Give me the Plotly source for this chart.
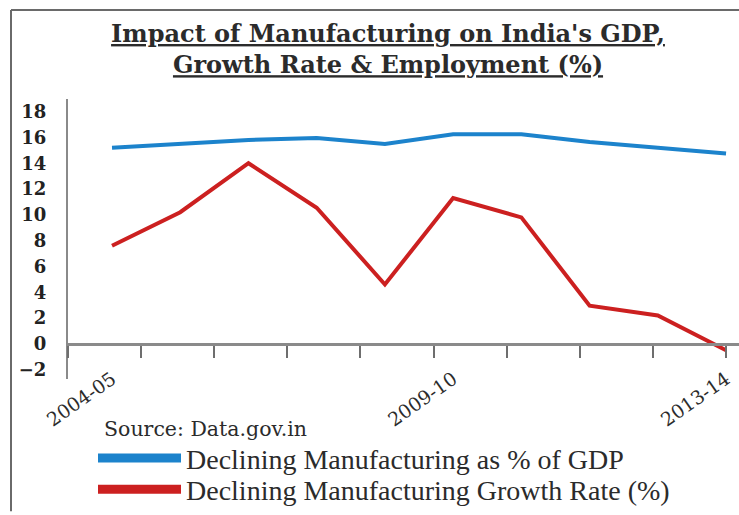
import plotly.graph_objects as go

# ---- data ----
years = ["2004-05", "2005-06", "2006-07", "2007-08", "2008-09",
         "2009-10", "2010-11", "2011-12", "2012-13", "2013-14"]
gdp_share = [15.2, 15.5, 15.8, 15.95, 15.5, 16.25, 16.25, 15.65, 15.2, 14.75]
growth_rate = [7.6, 10.2, 14.0, 10.55, 4.6, 11.3, 9.8, 2.95, 2.2, -0.5]
label_years = ["2004-05", "2009-10", "2013-14"]
y_ticks = list(range(-2, 19, 2))

series_names = ["Declining Manufacturing as % of GDP",
                "Declining Manufacturing Growth Rate (%)"]
title_lines = ["Impact of Manufacturing on India's GDP,",
               "Growth Rate & Employment (%)"]
source_text = "Source: Data.gov.in"

# ---- style ----
BLUE = "#1c83cc"
RED = "#cc2020"
AXIS = "#8a8a8a"
TEXT = "#2b2b2b"
W, H = 739, 515
ML, MR, MT, MB = 68, 0, 99, 130
PW, PH = W - ML - MR, H - MT - MB

XMIN, XMAX = -0.645, 9.19
YMIN, YMAX = -2.73, 18.98
x_idx = list(range(len(years)))
label_idx = [years.index(v) for v in label_years]
tick_pos = [XMIN + k * (len(years) - 1 - XMIN) / (len(years) - 1) for k in range(len(years))]
zero_pos = (0 - YMIN) / (YMAX - YMIN)


def px(xp):
    return (xp - ML) / PW


def py(yp):
    return (H - MB - yp) / PH


fig = go.Figure()
fig.add_trace(go.Scatter(x=x_idx, y=gdp_share, mode="lines", line=dict(color=BLUE, width=4),
                         name=series_names[0], showlegend=False))
fig.add_trace(go.Scatter(x=x_idx, y=growth_rate, mode="lines", line=dict(color=RED, width=4),
                         name=series_names[1], showlegend=False))
# legend entries (thick swatches)
fig.add_trace(go.Scatter(x=[None], y=[None], mode="lines", line=dict(color=BLUE, width=9),
                         name=series_names[0], legend="legend"))
fig.add_trace(go.Scatter(x=[None], y=[None], mode="lines", line=dict(color=RED, width=9),
                         name=series_names[1], legend="legend2"))
# carrier for the label axis
fig.add_trace(go.Scatter(x=[None], y=[None], xaxis="x2", showlegend=False, hoverinfo="skip"))

legend_common = dict(
    xanchor="left", yanchor="middle", bgcolor="rgba(0,0,0,0)", borderwidth=0,
    font=dict(family="Liberation Serif", size=28, color=TEXT), itemwidth=83,
    x=px(93),
)

fig.update_layout(
    width=W, height=H,
    margin=dict(l=ML, r=MR, t=MT, b=MB),
    paper_bgcolor="white", plot_bgcolor="white",
    title=dict(
        text="<br>".join(f"<b><u>{t}</u></b>" for t in title_lines),
        x=388 / W, xanchor="center", xref="container",
        y=1 - 42 / H, yanchor="top", yref="container",
        font=dict(family="DejaVu Serif", size=24, color=TEXT),
    ),
    xaxis=dict(
        range=[XMIN, XMAX], anchor="free", position=zero_pos,
        showline=True, linecolor=AXIS, linewidth=2.5,
        ticks="outside", tickvals=tick_pos, ticklen=12, tickwidth=2, tickcolor="#6e6e6e",
        showticklabels=False, showgrid=False, zeroline=False,
    ),
    xaxis2=dict(
        range=[XMIN, XMAX], overlaying="x", anchor="free", position=zero_pos, side="bottom",
        tickvals=label_idx, ticktext=label_years, tickangle=-35,
        ticks="outside", ticklen=16, tickcolor="rgba(0,0,0,0)",
        tickfont=dict(family="DejaVu Serif", size=19, color=TEXT),
        showline=False, showgrid=False, zeroline=False,
    ),
    yaxis=dict(
        range=[YMIN, YMAX], tickvals=y_ticks,
        showline=True, linecolor=AXIS, linewidth=2,
        ticks="outside", ticklen=16, tickcolor="rgba(0,0,0,0)",
        tickfont=dict(family="DejaVu Serif", size=18, color="#222222", weight="bold"),
        showgrid=False, zeroline=False,
    ),
    legend=dict(**legend_common, y=py(466)),
    legend2=dict(**legend_common, y=py(498)),
    annotations=[dict(
        text=source_text, xref="paper", yref="paper", x=px(102), y=py(436),
        xanchor="left", yanchor="middle", showarrow=False,
        font=dict(family="DejaVu Serif", size=20.5, color=TEXT),
    )],
    shapes=[
        dict(type="line", xref="paper", yref="paper", x0=px(11), x1=px(W + 5), y0=py(8), y1=py(8),
             line=dict(color="#6a6a6a", width=2)),
        dict(type="line", xref="paper", yref="paper", x0=px(11), x1=px(11), y0=py(8), y1=py(H + 5),
             line=dict(color="#6a6a6a", width=2)),
    ],
)

fig.write_html("out.html")
